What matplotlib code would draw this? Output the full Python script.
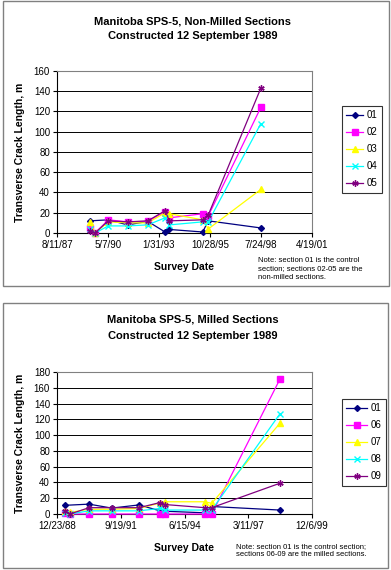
import datetime as dt
import matplotlib
matplotlib.use('Agg')
import matplotlib.pyplot as plt
import matplotlib.dates as mdates
from matplotlib.patches import Rectangle
from matplotlib.ticker import FuncFormatter, MultipleLocator

plt.rcParams['font.family'] = ['Liberation Sans', 'DejaVu Sans']

# Non-milled sections (top chart)
top_dates = ['1989-05-19', '1989-08-25', '1990-05-13', '1991-05-28', '1992-06-24',
             '1993-05-30', '1993-08-23', '1995-06-06', '1995-09-25', '1998-07-20']
top_labels = ['01', '02', '03', '04', '05']
top_s01 = [12, None, 13, 8, 11.5, 1, 3.5, 1, 12, 5]
top_s02 = [5, 0, 13, 11, 11.5, 21, 15, 19, 17, 124]
top_s03 = [11, 0, 11, 10, 10, 20, 19, 13, 4, 43]
top_s04 = [4, 0, 7, 7, 8, 15, 8, 11, 11, 108]
top_s05 = [2, 0, 12, 11, 12, 22, 12, 13, 18, 143]

# Milled sections (bottom chart)
bot_dates = ['1989-04-27', '1989-07-15', '1990-05-09', '1991-04-30', '1992-07-01',
             '1993-05-27', '1993-08-13', '1995-05-03', '1995-08-16', '1998-07-21']
bot_labels = ['01', '06', '07', '08', '09']
bot_s01 = [11, None, 12.5, 7.5, 11.5, 4, 3.5, 1.5, 9.5, 5]
bot_s06 = [1, 0, 0, 0, 0, 0, 0, 0, 0, 171]
bot_s07 = [4, 2, 6, 6, 7, 14, 15.5, 15.5, 13.5, 115]
bot_s08 = [1, 0, 4, 4, 4, 7, 5, 5, 5, 127]
bot_s09 = [4, 0, 8, 8, 8, 14.5, 12, 8, 8, 39]

colors = ['#000080', '#FF00FF', '#FFFF00', '#00FFFF', '#800080']
markers = ['D', 's', '^', 'x', (6, 2, 0)]
msizes = [3, 4, 4.5, 4, 4.5]

W, H = 391, 570
fig = plt.figure(figsize=(W / 100, H / 100), dpi=100)


def box(x0, y0, x1, y1):
    fig.patches.append(Rectangle((x0 / W, 1 - y1 / H), (x1 - x0) / W, (y1 - y0) / H,
                                 transform=fig.transFigure, fill=False,
                                 edgecolor='#808080', lw=1.0))


def fmt_date(x, pos):
    d = mdates.num2date(x)
    return f'{d.month}/{d.day}/{d.year % 100:02d}'


def draw(ax_rect, dates, series, labels, xmin, xmax, ymax, leg_y, hlen):
    ax = fig.add_axes(ax_rect)
    xs = [mdates.date2num(dt.date.fromisoformat(s)) for s in dates]
    lines = []
    for vals, c, m, ms, lab in zip(series, colors, markers, msizes, labels):
        px = [x for x, v in zip(xs, vals) if v is not None]
        py = [v for v in vals if v is not None]
        ln, = ax.plot(px, py, color=c, marker=m, ms=ms, lw=0.9, mew=1.0,
                      label=lab, zorder=3, clip_on=False)
        lines.append(ln)
    x0 = mdates.date2num(dt.date.fromisoformat(xmin))
    x1 = mdates.date2num(dt.date.fromisoformat(xmax))
    ax.set_xlim(x0, x1)
    ax.set_xticks([x0 + 1000 * i for i in range(int((x1 - x0) / 1000) + 1)])
    ax.xaxis.set_major_formatter(FuncFormatter(fmt_date))
    ax.set_ylim(0, ymax)
    ax.yaxis.set_major_locator(MultipleLocator(20))
    ax.grid(axis='y', color='black', lw=0.7)
    ax.set_axisbelow(True)
    for s in ['top', 'right']:
        ax.spines[s].set_color('#808080')
    for s in ['left', 'bottom']:
        ax.spines[s].set_color('black')
    for sp in ax.spines.values():
        sp.set_linewidth(0.8)
    ax.tick_params(labelsize=7, length=3, width=0.8, pad=2)
    ax.set_xlabel('Survey Date', fontsize=7.5, fontweight='bold', labelpad=9)
    ax.set_ylabel('Transverse Crack Length, m', fontsize=7.5, fontweight='bold', labelpad=6)
    leg = ax.legend(handles=lines, loc='upper left', bbox_to_anchor=(1.118, leg_y),
                    borderaxespad=0, fontsize=7, frameon=True, fancybox=False,
                    edgecolor='black', handlelength=hlen, labelspacing=0.72,
                    borderpad=0.45, handletextpad=0.4)
    leg.get_frame().set_linewidth(0.8)
    return ax


# top chart
box(3, 1, 389, 286)
fig.text(193 / W, 1 - 22 / H, 'Manitoba SPS-5, Non-Milled Sections', ha='center',
         va='center', fontsize=8, fontweight='bold')
fig.text(193 / W, 1 - 36 / H, 'Constructed 12 September 1989', ha='center',
         va='center', fontsize=8, fontweight='bold')
draw([57 / W, 1 - 233 / H, 255 / W, 162 / H], top_dates,
     [top_s01, top_s02, top_s03, top_s04, top_s05], top_labels,
     '1987-08-11', '2001-04-19', 160, 0.784, 1.7)
fig.text(258 / W, 1 - 257 / H,
         'Note: section 01 is the control\nsection; sections 02-05 are the\nnon-milled sections.',
         ha='left', va='top', fontsize=5.5, linespacing=1.3)

# bottom chart
box(3, 303, 388, 568)
fig.text(193 / W, 1 - 319 / H, 'Manitoba SPS-5, Milled Sections', ha='center',
         va='center', fontsize=8, fontweight='bold')
fig.text(193 / W, 1 - 336 / H, 'Constructed 12 September 1989', ha='center',
         va='center', fontsize=8, fontweight='bold')
draw([57 / W, 1 - 514 / H, 255 / W, 142 / H], bot_dates,
     [bot_s01, bot_s06, bot_s07, bot_s08, bot_s09], bot_labels,
     '1988-12-23', '1999-12-06', 180, 0.81, 2.1)
fig.text(236 / W, 1 - 543 / H,
         'Note: section 01 is the control section;\nsections 06-09 are the milled sections.',
         ha='left', va='top', fontsize=5.5, linespacing=1.3)

fig.savefig('out.png', dpi=100)
